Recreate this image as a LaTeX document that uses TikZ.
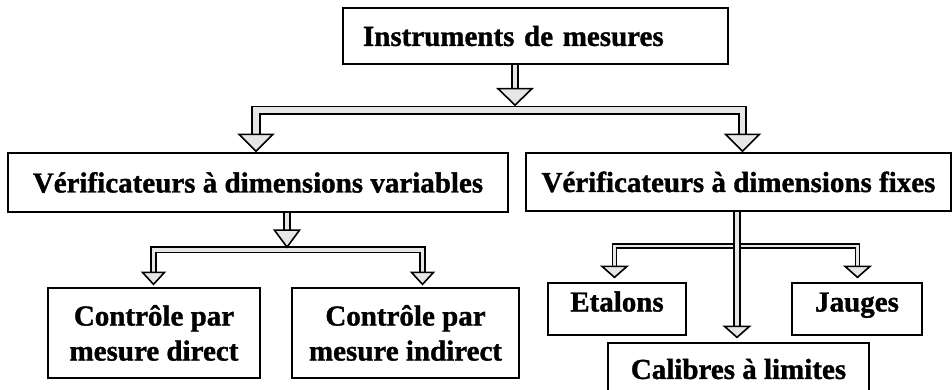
\documentclass[tikz,border=0pt]{standalone}
\usepackage{fontspec}
\setmainfont{Liberation Serif}[BoldFeatures={FakeBold=1.2}]
\usetikzlibrary{calc}
\definecolor{shade}{RGB}{230,230,230}
\newcommand\arrowhd[3]{\draw[head] ($(#1)+(-#2,-#3)$) -- ($(#1)+(#2,-#3)$) -- (#1) -- cycle;}
\begin{document}
\begin{tikzpicture}[x=1pt,y=-1pt,
  box/.style={draw, line width=1.3pt, rectangle, inner sep=0pt, font=\bfseries\fontsize{29}{35}\selectfont, align=center},
  shaft/.style={draw=black, line width=1.8pt, double=shade, double distance=3.8pt, line join=miter},
  bigshaft/.style={shaft, double distance=5.5pt},
  thinbar/.style={shaft, double distance=2.2pt},
  head/.style={draw=black, line width=1.6pt, fill=shade, line join=miter},
]
\clip (0,0) rectangle (952,389);

% boxes
\node[box, minimum width=385, minimum height=56, text width=345, align=left, inner xsep=20] (T) at (535.5,36) {Instruments de mesures};
\node[box, minimum width=500, minimum height=59] (V) at (258,182.5) {Vérificateurs à dimensions variables};
\node[box, minimum width=425, minimum height=58] (F) at (738.5,182) {Vérificateurs à dimensions fixes};
\node[box, minimum width=212, minimum height=90] (D) at (154,333) {Contrôle par\\mesure direct};
\node[box, minimum width=227, minimum height=90] (I) at (405.5,333) {Contrôle par\\mesure indirect};
\node[box, minimum width=138, minimum height=52, text height=19, text depth=14] (E) at (617,309) {Etalons};
\node[box, minimum width=130, minimum height=52, text height=19, text depth=14] (J) at (857,309) {Jauges};
\node[box, minimum width=261, minimum height=52] (C) at (738.5,369) {Calibres à limites};

% level 1
\coordinate (b1) at ($(T.south)+(-20.5,45.5)$);
\draw[bigshaft] ($(V.north)+(-2,-18)$) |- (b1) -| ($(F.north)+(4,-18)$);
\draw[shaft] ($(T.south)+(-20.5,0)$) -- ($(b1)+(0,-21.5)$);
\arrowhd{$(b1)+(0,-5)$}{17}{16.5}
\arrowhd{$(V.north)+(-2,-1)$}{17}{17}
\arrowhd{$(F.north)+(4,-1)$}{17}{17}

% level 2 left
\coordinate (b2) at ($(V.south)+(29,37)$);
\draw[shaft] ($(D.north)+(-0.5,-15)$) |- (b2) -| ($(I.north)+(17,-15)$);
\draw[shaft] ($(V.south)+(29,0)$) -- ($(b2)+(0,-19.5)$);
\arrowhd{$(b2)+(0,-2.5)$}{12.5}{17}
\arrowhd{$(D.north)+(-0.5,-3)$}{11}{12}
\arrowhd{$(I.north)+(17,-3)$}{11}{12}

% level 2 right
\coordinate (b3) at ($(F.south)+(-1.5,34)$);
\draw[thinbar] ($(E.north)+(-2.5,-16)$) |- (b3) -| ($(J.north)+(0.5,-16)$);
\draw[shaft] ($(F.south)+(-1.5,0)$) -- ($(C.north)+(-1.5,-16)$);
\arrowhd{$(E.north)+(-2.5,-5)$}{12.5}{11}
\arrowhd{$(J.north)+(0.5,-5)$}{12.5}{11}
\arrowhd{$(C.north)+(-1.5,-5)$}{12.5}{11}
\end{tikzpicture}
\end{document}
